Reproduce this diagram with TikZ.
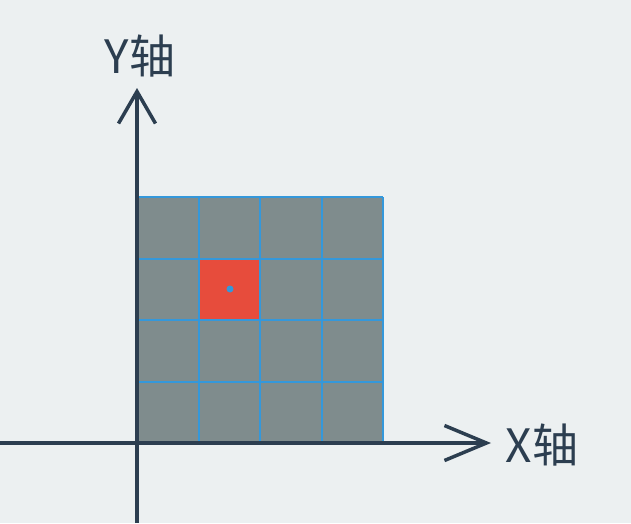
\documentclass[tikz,border=0pt]{standalone}
\usepackage{fontspec}
\newfontfamily\cjk{Noto Sans CJK SC}
\usetikzlibrary{arrows.meta}
\definecolor{bgpaper}{HTML}{ECF0F1}
\definecolor{cellgray}{HTML}{7F8C8D}
\definecolor{gridblue}{HTML}{3498DB}
\definecolor{cellred}{HTML}{E74C3C}
\definecolor{axisnavy}{HTML}{2C3E50}

\begin{document}
\begin{tikzpicture}[
  x=1pt, y=-1pt,
  axis/.style={axisnavy, line width=3.5pt},
  gridline/.style={gridblue, line width=2pt},
  lbl/.style={font=\cjk\fontsize{46}{46}\selectfont, text=axisnavy, inner sep=0pt}
]
\fill[bgpaper] (0,0) rectangle (631,523);
\useasboundingbox (0,0) rectangle (631,523);
% cells
\fill[cellgray] (137,197) rectangle (383,443);
\fill[cellred] (198.5,258.5) rectangle (260,320);
\foreach \k in {0,...,4} {
  \draw[gridline] (137+61.5*\k,197) -- (137+61.5*\k,443);
  \draw[gridline] (137,197+61.5*\k) -- (383,197+61.5*\k);
}
\fill[gridblue] (230,289) circle (3.5);
% axes
\coordinate (ybase) at (137,523);
\coordinate (ytip) at (137,88);
\coordinate (xbase) at (0,443);
\coordinate (xtip) at (491,443);
\draw[axis, -{Straight Barb[length=32pt, width=37pt]}] (ybase) -- (ytip);
\draw[axis, -{Straight Barb[length=42pt, width=35pt]}] (xbase) -- (xtip);
\node[lbl] (ylbl) at (140,56) {Y轴};
\node[lbl] (xlbl) at (542,445) {X轴};
\end{tikzpicture}
\end{document}
